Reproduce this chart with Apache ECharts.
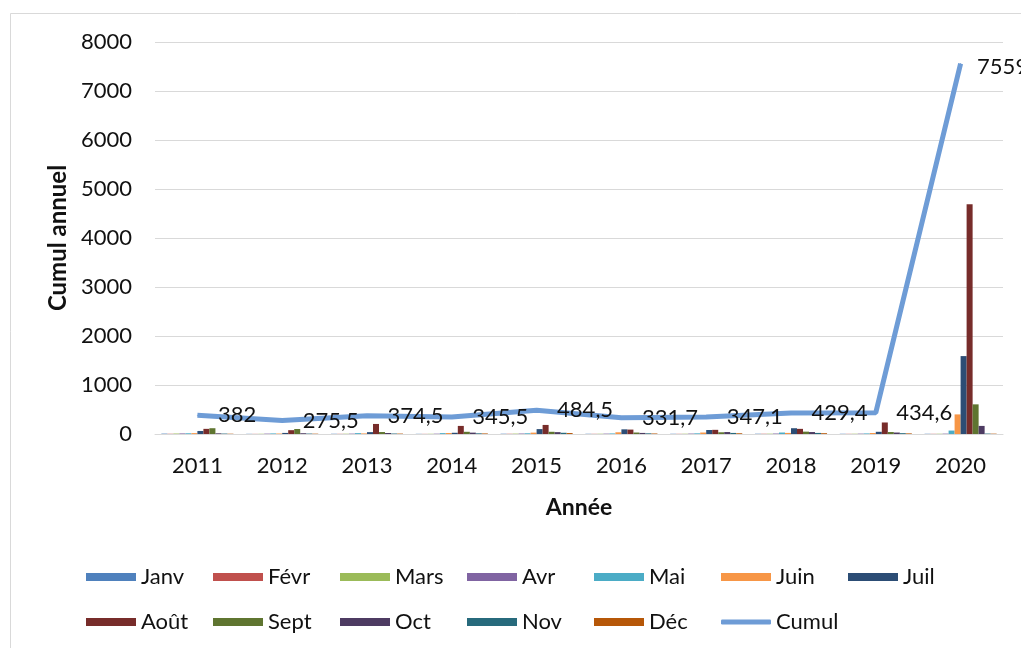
<!DOCTYPE html>
<html lang="fr">
<head>
<meta charset="utf-8">
<title>Cumul annuel par mois</title>
<script src="https://cdn.jsdelivr.net/npm/echarts@6/dist/echarts.min.js"></script>
<style>
  html, body { margin: 0; padding: 0; background: #ffffff; }
  #chart { width: 1021px; height: 648px; }
</style>
</head>
<body>
<div id="chart"></div>
<script>
// Years on the category axis
const years = ['2011', '2012', '2013', '2014', '2015', '2016', '2017', '2018', '2019', '2020'];

// Month names (one bar series each)
const months = ['Janv', 'Févr', 'Mars', 'Avr', 'Mai', 'Juin', 'Juil', 'Août', 'Sept', 'Oct', 'Nov', 'Déc'];

// Monthly values per year (2011 → 2020)
const janv = [8, 4, 5, 4, 6, 5, 5, 6, 5, 5];
const fevr = [5, 3, 4, 3, 5, 4, 4, 5, 4, 4];
const mars = [10, 5, 6, 5, 8, 6, 6, 7, 6, 6];
const avr  = [12, 8, 8, 7, 10, 8, 9, 10, 8, 8];
const mai  = [15, 12, 18, 18, 15, 12, 14, 30, 12, 70];
const juin = [18, 10, 12, 20, 28, 35, 30, 22, 20, 400];
const juil = [62, 22, 38, 25, 100, 95, 82, 118, 45, 1590];
const aout = [105, 78, 205, 165, 185, 90, 85, 105, 235, 4690];
const sept = [118, 102, 40, 45, 45, 30, 35, 48, 40, 605];
const oct  = [14, 16, 20, 28, 38, 22, 40, 40, 30, 165];
const nov  = [9, 9, 10, 14, 25, 14, 22, 22, 17, 9];
const dec  = [6, 6.5, 8.5, 11.5, 19.5, 10.7, 15.1, 16.4, 12.6, 7];

// Annual totals
const cumul = [382, 275.5, 374.5, 345.5, 484.5, 331.7, 347.1, 429.4, 434.6, 7559];

// Value-axis ticks
const yTicks = [0, 1000, 2000, 3000, 4000, 5000, 6000, 7000, 8000];

const monthValues = [janv, fevr, mars, avr, mai, juin, juil, aout, sept, oct, nov, dec];
const monthColors = ['#4F81BD', '#C0504D', '#9BBB59', '#8064A2', '#4BACC6', '#F79646',
                     '#2C4D75', '#772C2A', '#5F7530', '#4D3B62', '#276A7C', '#B65708'];
const cumulColor = '#6E9CD6';
const FONT = 'Lato, "Open Sans", sans-serif';
const TXT = '#111111';
const FS = 22;

const frNum = v => String(v).replace('.', ',');

const barSeries = months.map((m, i) => ({
  name: m,
  type: 'bar',
  data: monthValues[i],
  itemStyle: { color: monthColors[i] },
  barGap: '0%',
  barCategoryGap: '15%',
  z: 2
}));

const lastIdx = cumul.length - 1;
const lineSeries = {
  name: 'Cumul',
  type: 'line',
  data: cumul,
  symbol: 'circle',
  symbolSize: 1,
  showSymbol: true,
  lineStyle: { color: cumulColor, width: 5 },
  itemStyle: { color: cumulColor },
  z: 5,
  label: {
    show: true,
    position: 'right',
    distance: 20,
    fontFamily: FONT,
    fontSize: FS,
    color: TXT,
    formatter: p => frNum(p.value)
  },
  // the last total sits a little closer to its point, near the right edge
  labelLayout: p => p.dataIndex === lastIdx ? { dx: -4, dy: 3 } : {}
};

// Legend laid out on a fixed two-row grid
const legendNames = months.concat(['Cumul']);
const legends = legendNames.map((name, i) => {
  const isLine = name === 'Cumul';
  const item = {
    data: [name],
    left: 86 + 127 * (i % 7),
    top: i < 7 ? 566 : 611,
    itemWidth: 50,
    itemHeight: isLine ? 5 : 8,
    icon: isLine ? 'roundRect' : 'rect',
    selectedMode: false,
    padding: 0,
    textStyle: { fontFamily: FONT, fontSize: FS, color: TXT }
  };
  if (isLine) item.itemStyle = { color: cumulColor };
  return item;
});

const chart = echarts.init(document.getElementById('chart'), null, { renderer: 'canvas' });
chart.setOption({
  backgroundColor: '#ffffff',
  animation: false,
  graphic: [{
    type: 'rect',
    shape: { x: 10.5, y: 13.5, width: 1100, height: 700 },
    style: { fill: 'none', stroke: '#d9d9d9', lineWidth: 1 },
    silent: true
  }],
  grid: { left: 155, right: 18, top: 42, bottom: 214, containLabel: false },
  legend: legends,
  xAxis: {
    type: 'category',
    data: years,
    name: 'Année',
    nameLocation: 'middle',
    nameGap: 62,
    nameTextStyle: { fontFamily: FONT, fontSize: 23, fontWeight: 'bold', color: TXT },
    axisLine: { lineStyle: { color: '#d9d9d9', width: 1 } },
    axisTick: { show: false },
    axisLabel: { fontFamily: FONT, fontSize: FS, color: TXT, margin: 21 }
  },
  yAxis: {
    type: 'value',
    min: yTicks[0],
    max: yTicks[yTicks.length - 1],
    interval: yTicks[1] - yTicks[0],
    name: 'Cumul annuel',
    nameLocation: 'middle',
    nameGap: 80,
    nameRotate: 90,
    nameTextStyle: { fontFamily: FONT, fontSize: 24, fontWeight: 'bold', color: TXT },
    axisLine: { show: false },
    axisTick: { show: false },
    splitLine: { lineStyle: { color: '#d9d9d9', width: 1 } },
    axisLabel: { fontFamily: FONT, fontSize: FS, color: TXT, margin: 23, formatter: v => String(v) }
  },
  series: barSeries.concat([lineSeries])
});
</script>
</body>
</html>
